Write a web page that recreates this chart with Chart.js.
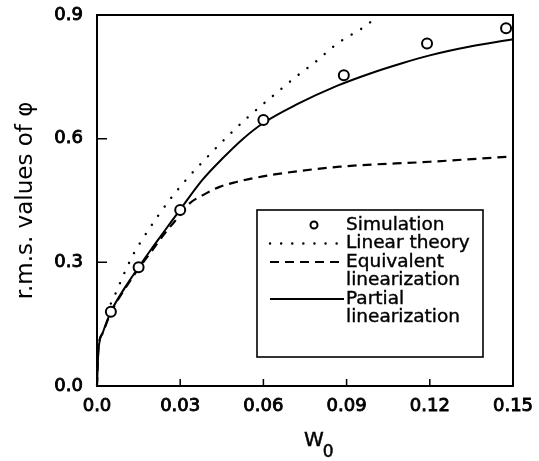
<!DOCTYPE html>
<html>
<head>
<meta charset="utf-8">
<script src="https://cdn.jsdelivr.net/npm/chart.js@4/dist/chart.umd.min.js"></script>
<style>
  html, body { margin: 0; padding: 0; background: #fff; }
  #wrap { width: 539px; height: 461px; position: relative; }
</style>
</head>
<body>
<div id="wrap"><canvas id="c" width="539" height="461"></canvas></div>
<script>
// ---- data ----
const seriesNames = ['Simulation', 'Linear theory', 'Equivalent\nlinearization', 'Partial\nlinearization'];
const xTickLabels = ['0.0', '0.03', '0.06', '0.09', '0.12', '0.15'];
const yTickLabels = ['0.0', '0.3', '0.6', '0.9'];
const xTitleMain = 'W';
const xTitleSub = '0';
const yTitle = 'r.m.s. values of \u03C6';

const simX = [0.005, 0.015, 0.030, 0.060, 0.089, 0.119, 0.1475];
const simY = [0.180, 0.288, 0.427, 0.645, 0.754, 0.831, 0.868];

const linX = [0.005, 0.007, 0.009, 0.0133, 0.016, 0.0214, 0.0274, 0.0338, 0.037, 0.047, 0.0539, 0.0647, 0.0717, 0.0791, 0.0863, 0.0983, 0.1012];
const linY = [0.200, 0.229, 0.261, 0.322, 0.352, 0.407, 0.462, 0.513, 0.536, 0.605, 0.649, 0.711, 0.750, 0.788, 0.829, 0.881, 0.900];

const eqX = [0, 0.0005, 0.002, 0.005, 0.010, 0.015, 0.020, 0.025, 0.030, 0.0334, 0.0382, 0.0442, 0.0503, 0.0563, 0.0647, 0.0875, 0.120, 0.150];
const eqY = [0, 0.090, 0.128, 0.178, 0.235, 0.285, 0.330, 0.375, 0.415, 0.443, 0.463, 0.483, 0.495, 0.504, 0.514, 0.532, 0.544, 0.557];

const parX = [0, 0.0005, 0.002, 0.005, 0.010, 0.015, 0.020, 0.025, 0.030, 0.038, 0.0454, 0.0527, 0.060, 0.072, 0.0865, 0.098, 0.110, 0.120, 0.135, 0.150];
const parY = [0, 0.085, 0.128, 0.180, 0.238, 0.288, 0.336, 0.382, 0.428, 0.500, 0.553, 0.600, 0.638, 0.683, 0.728, 0.757, 0.783, 0.802, 0.824, 0.841];

const pts = (xs, ys) => xs.map((x, i) => ({ x: x, y: ys[i] }));

// ---- plugin: frame, inward ticks, x title, legend box ----
const framePlugin = {
  id: 'frame',
  afterDatasetsDraw(chart) {
    const ctx = chart.ctx;
    const a = chart.chartArea;
    const xs = chart.scales.x, ys = chart.scales.y;
    ctx.save();
    ctx.strokeStyle = '#000';
    ctx.lineWidth = 2;
    ctx.strokeRect(a.left, a.top, a.right - a.left, a.bottom - a.top);
    // inward ticks
    ctx.lineWidth = 1.5;
    ctx.beginPath();
    xs.ticks.forEach(t => {
      const px = xs.getPixelForValue(t.value);
      ctx.moveTo(px, a.bottom);
      ctx.lineTo(px, a.bottom - 7);
    });
    ys.ticks.forEach(t => {
      const py = ys.getPixelForValue(t.value);
      ctx.moveTo(a.left, py);
      ctx.lineTo(a.left + 10, py);
    });
    ctx.stroke();

    // x-axis title W with subscript 0
    ctx.fillStyle = '#000';
    ctx.strokeStyle = '#000';
    ctx.lineWidth = 0.5;
    ctx.textBaseline = 'alphabetic';
    ctx.textAlign = 'left';
    ctx.font = '20px "DejaVu Sans"';
    const midX = (a.left + a.right) / 2;
    const wW = ctx.measureText(xTitleMain).width;
    const wx = midX - 1;
    ctx.fillText(xTitleMain, wx, a.bottom + 60);
    ctx.strokeText(xTitleMain, wx, a.bottom + 60);
    ctx.font = '17px "DejaVu Sans"';
    ctx.fillText(xTitleSub, wx + wW - 1, a.bottom + 71);
    ctx.strokeText(xTitleSub, wx + wW - 1, a.bottom + 71);

    // legend
    const L = a.left + 160, T = a.top + 195, R = a.left + 386, B = a.top + 342;
    ctx.fillStyle = '#fff';
    ctx.fillRect(L, T, R - L, B - T);
    ctx.lineWidth = 1.6;
    ctx.strokeRect(L, T, R - L, B - T);
    ctx.fillStyle = '#000';
    ctx.font = '18.5px "DejaVu Sans"';
    ctx.textBaseline = 'middle';
    ctx.textAlign = 'left';
    const textX = L + 89;
    const lineH = 18.5;
    let y = T + 15;
    const ds = chart.data.datasets;
    seriesNames.forEach((name, i) => {
      const lines = name.split('\n');
      const d = ds[i];
      ctx.save();
      if (i === 0) {
        ctx.beginPath();
        ctx.arc(L + 57, y, 3.5, 0, Math.PI * 2);
        ctx.lineWidth = 2;
        ctx.strokeStyle = '#000';
        ctx.stroke();
      } else {
        ctx.beginPath();
        ctx.strokeStyle = '#000';
        ctx.lineWidth = d.borderWidth;
        ctx.lineCap = d.borderCapStyle || 'butt';
        ctx.setLineDash(d.borderDash || []);
        ctx.moveTo(L + 13, y);
        ctx.lineTo(L + (i === 1 ? 80 : 87), y);
        ctx.stroke();
      }
      ctx.restore();
      ctx.lineWidth = 0.4;
      lines.forEach((ln, k) => {
        ctx.fillText(ln, textX, y + k * lineH);
        ctx.strokeText(ln, textX, y + k * lineH);
      });
      y += lines.length * lineH;
    });
    ctx.restore();
  }
};

const tickFont = { family: 'DejaVu Sans', size: 18 };

new Chart(document.getElementById('c'), {
  type: 'scatter',
  data: {
    datasets: [
      {
        label: seriesNames[0],
        data: pts(simX, simY),
        showLine: false,
        pointStyle: 'circle',
        pointRadius: 5,
        pointBackgroundColor: '#fff',
        pointBorderColor: '#000',
        pointBorderWidth: 2
      },
      {
        label: seriesNames[1],
        data: pts(linX, linY),
        showLine: true,
        borderColor: '#000',
        borderWidth: 2.4,
        borderCapStyle: 'round',
        borderDash: [0.1, 11],
        pointRadius: 0,
        cubicInterpolationMode: 'monotone'
      },
      {
        label: seriesNames[2],
        data: pts(eqX, eqY),
        showLine: true,
        borderColor: '#000',
        borderWidth: 2.2,
        borderDash: [9, 6],
        pointRadius: 0,
        cubicInterpolationMode: 'monotone'
      },
      {
        label: seriesNames[3],
        data: pts(parX, parY),
        showLine: true,
        borderColor: '#000',
        borderWidth: 2,
        pointRadius: 0,
        cubicInterpolationMode: 'monotone'
      }
    ]
  },
  options: {
    responsive: false,
    animation: false,
    devicePixelRatio: 1,
    clip: false,
    layout: { padding: { left: 10, right: 26, top: 15, bottom: 8 } },
    plugins: {
      legend: { display: false },
      tooltip: { enabled: false }
    },
    scales: {
      x: {
        type: 'linear',
        min: 0,
        max: 0.15,
        grid: { display: false, drawTicks: false },
        border: { display: false },
        ticks: {
          stepSize: 0.03,
          padding: 10,
          color: '#000',
          textStrokeColor: '#000',
          textStrokeWidth: 0.9,
          font: tickFont,
          maxRotation: 0,
          callback: (v, i) => xTickLabels[i]
        },
        title: { display: false },
        afterFit: s => { s.height = 67; s.paddingLeft = 0; s.paddingRight = 0; }
      },
      y: {
        type: 'linear',
        min: 0,
        max: 0.9,
        grid: { display: false, drawTicks: false },
        border: { display: false },
        ticks: {
          stepSize: 0.3,
          padding: 14,
          color: '#000',
          textStrokeColor: '#000',
          textStrokeWidth: 0.9,
          font: tickFont,
          callback: (v, i) => yTickLabels[i]
        },
        title: {
          display: true,
          text: yTitle,
          color: '#000',
          font: { family: 'DejaVu Sans', size: 23 },
          padding: { top: 2, bottom: 0 }
        },
        afterFit: s => { s.width = 87; s.paddingTop = 0; s.paddingBottom = 0; }
      }
    }
  },
  plugins: [framePlugin]
});
</script>
</body>
</html>
